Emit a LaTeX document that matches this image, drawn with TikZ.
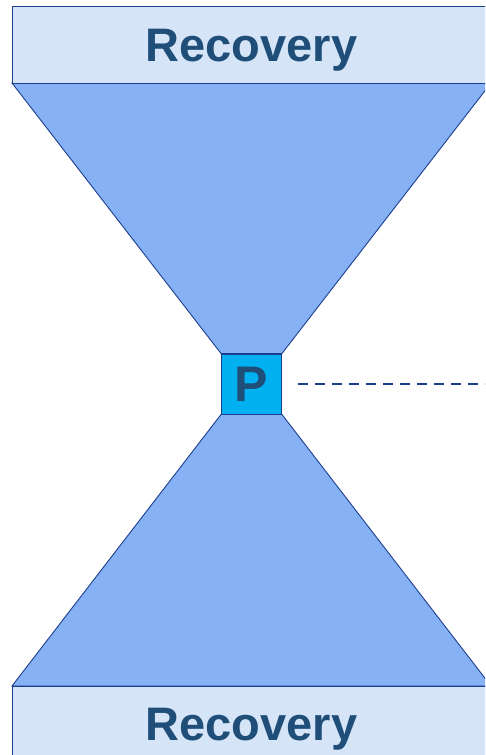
\documentclass[tikz,border=0pt]{standalone}
\usepackage{fontspec}
\setmainfont{Liberation Sans}
\usetikzlibrary{positioning}
\definecolor{boxfill}{RGB}{213,228,246}
\definecolor{funnelfill}{RGB}{134,177,245}
\definecolor{pfill}{RGB}{0,176,240}
\definecolor{edgeblue}{RGB}{28,62,140}
\definecolor{textblue}{RGB}{31,78,121}
\tikzset{
  stage/.style={draw=edgeblue, line width=0.9pt, fill=boxfill, minimum width=479pt,
    minimum height=77pt, inner sep=0pt, text height=34pt, text depth=0pt,
    text=textblue, font=\fontsize{47}{47}\selectfont\bfseries},
  pivot/.style={draw=edgeblue, line width=0.9pt, fill=pfill, minimum size=60pt,
    inner sep=0pt, text height=36pt, text depth=0pt,
    text=textblue, font=\fontsize{50}{50}\selectfont\bfseries},
  funnel/.style={draw=edgeblue, line width=0.9pt, fill=funnelfill, line join=miter},
  link/.style={draw=edgeblue, line width=1.8pt, dash pattern=on 10pt off 7pt}
}
\begin{document}
\begin{tikzpicture}[x=1pt,y=1pt]
  \useasboundingbox (0,0) rectangle (485,755);
  \clip (0,0) rectangle (485,755);

  \node[pivot] (p) at (251.5,371) {P};

  % the two funnels
  \coordinate (tl) at (12,672);
  \coordinate (tr) at (491,672);
  \coordinate (bl) at (12,69);
  \coordinate (br) at (491,69);
  \draw[funnel] (tl) -- (tr) -- (p.north east) -- (p.north west) -- cycle;
  \draw[funnel] (bl) -- (br) -- (p.south east) -- (p.south west) -- cycle;

  \node[stage] (top) at (251.5,710.5) {Recovery};
  \node[stage, minimum height=75pt] (bottom) at (251.5,31.5) {Recovery};
  \node[pivot] at (p) {P};

  \coordinate (out) at (490,371);
  \draw[link] (p.east) ++(16pt,0) -- (out);
\end{tikzpicture}
\end{document}
